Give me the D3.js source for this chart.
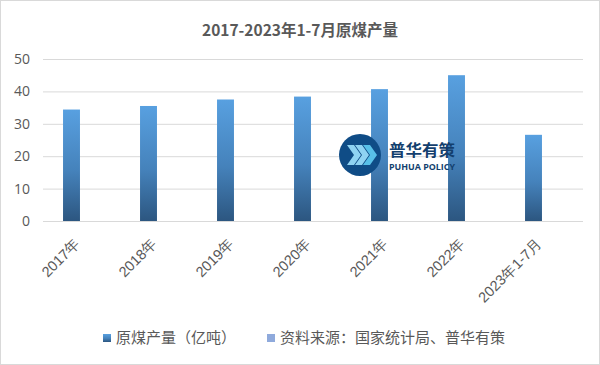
<!DOCTYPE html>
<html><head><meta charset="utf-8">
<script src="https://cdn.jsdelivr.net/npm/d3@7"></script>
<style>
body{margin:0;background:#fff;}
svg{display:block;font-family:"Noto Sans CJK SC","Noto Sans",sans-serif;}
</style></head><body>
<svg id="c" width="600" height="365"></svg>
<script>
const categories = ["2017年","2018年","2019年","2020年","2021年","2022年","2023年1-7月"];
const values = [34.4, 35.5, 37.5, 38.4, 40.7, 45.0, 26.6];
const yTicks = [0,10,20,30,40,50];
const title = "2017-2023年1-7月原煤产量";
const legendItems = ["原煤产量（亿吨）","资料来源：国家统计局、普华有策"];

const svg = d3.select("#c");
svg.append("rect").attr("x",0.5).attr("y",0.5).attr("width",599).attr("height",364)
  .attr("fill","#fff").attr("stroke","#d9d9d9");

const defs = svg.append("defs");
const g1 = defs.append("linearGradient").attr("id","bg").attr("x1",0).attr("y1",0).attr("x2",0).attr("y2",1);
g1.append("stop").attr("offset","0%").attr("stop-color","#58a0e0");
g1.append("stop").attr("offset","55%").attr("stop-color","#4582bb");
g1.append("stop").attr("offset","100%").attr("stop-color","#2c5680");

svg.append("text").attr("x",300).attr("y",36).attr("text-anchor","middle")
  .attr("font-size",15.5).attr("font-weight","bold").attr("fill","#595959").text(title);

const x = d3.scaleBand().domain(categories).range([33,572]).paddingInner(0.78).paddingOuter(0.39);
const y = d3.scaleLinear().domain([0,50]).range([221,59]);

const yAxis = svg.append("g").attr("transform","translate(43,0)")
  .call(d3.axisLeft(y).tickValues(yTicks).tickSize(-540).tickPadding(13));
yAxis.select(".domain").remove();
yAxis.selectAll(".tick line").attr("stroke","#d9d9d9");
yAxis.selectAll(".tick text").attr("fill","#595959").attr("font-size",14).attr("font-family","'Open Sans','Noto Sans',sans-serif");

svg.append("g").selectAll("rect").data(values).join("rect")
  .attr("x",(d,i)=>x(categories[i])).attr("width",x.bandwidth())
  .attr("y",d=>y(d)).attr("height",d=>y(0)-y(d)).attr("fill","url(#bg)");

svg.append("line").attr("x1",43).attr("x2",583).attr("y1",221.5).attr("y2",221.5).attr("stroke","#d9d9d9");

const xAxis = svg.append("g").attr("transform","translate(0,221)")
  .call(d3.axisBottom(x).tickSize(0).tickPadding(0));
xAxis.select(".domain").remove();
xAxis.selectAll(".tick text").attr("fill","#595959").attr("font-size",14.5)
  .attr("text-anchor","end").attr("dy","0.35em")
  .attr("transform","translate(6,20) rotate(-45)");

// logo
const logo = svg.append("g").attr("transform","translate(360,155)");
logo.append("circle").attr("r",21).attr("fill","#0f4c86");
[-9,-1,7].forEach(dx=>{
  logo.append("path").attr("d",`M${dx-4},-10 L${dx+3},-10 L${dx+10},0 L${dx+3},10 L${dx-4},10 L${dx+3},0 Z`)
    .attr("fill", dx===7 ? "#58c0e8" : "#8fd3f2");
});
logo.append("text").attr("x",29).attr("y",1).attr("font-size",16).attr("font-weight","bold").attr("fill","#133f6e")
  .attr("textLength",66).attr("lengthAdjust","spacingAndGlyphs").text("普华有策");
logo.append("text").attr("x",29).attr("y",15).attr("font-size",9.5).attr("font-weight","bold").attr("fill","#133f6e")
  .attr("font-family","'Open Sans','Noto Sans',sans-serif")
  .attr("textLength",66).attr("lengthAdjust","spacingAndGlyphs").text("PUHUA POLICY");

// legend
const lg = svg.append("g");
const lx = [103,267];
const lc = ["url(#bg)","#8faadc"];
legendItems.forEach((t,i)=>{
  lg.append("rect").attr("x",lx[i]).attr("y",334).attr("width",8).attr("height",8).attr("fill",lc[i]);
  lg.append("text").attr("x",lx[i]+13).attr("y",343).attr("font-size",15).attr("fill","#595959").text(t);
});
</script>
</body></html>
